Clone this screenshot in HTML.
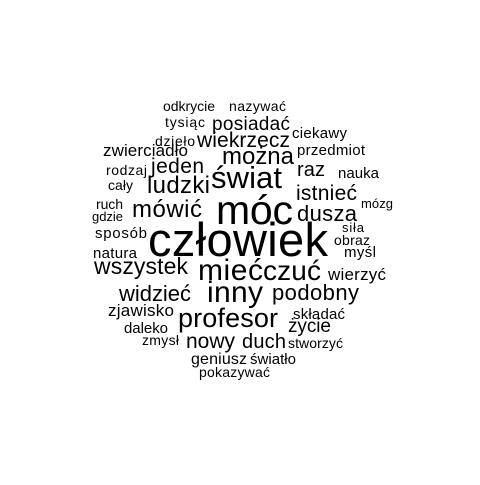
<!DOCTYPE html>
<html><head><meta charset="utf-8"><style>
html,body{margin:0;padding:0;background:#fff}
svg text{font-family:"Liberation Sans",Arial,sans-serif;fill:#000}
</style></head><body>
<svg width="480" height="480" viewBox="0 0 480 480">
<rect width="480" height="480" fill="#fff"/>
<text x="148" y="256" font-size="47" textLength="180">człowiek</text>
<text x="216" y="224" font-size="41" textLength="77">móc</text>
<text x="211" y="188" font-size="31" textLength="71">świat</text>
<text x="198" y="280" font-size="30" textLength="65">mieć</text>
<text x="263" y="280" font-size="28" textLength="58">czuć</text>
<text x="207" y="302" font-size="30" textLength="56">inny</text>
<text x="178" y="327" font-size="27" textLength="100">profesor</text>
<text x="163" y="111" font-size="14" textLength="52">odkrycie</text>
<text x="229" y="111" font-size="14" textLength="57">nazywać</text>
<text x="165" y="127" font-size="14" textLength="40">tysiąc</text>
<text x="212" y="130" font-size="19" textLength="78">posiadać</text>
<text x="155" y="146" font-size="14" textLength="40">dzieło</text>
<text x="197" y="147" font-size="21" textLength="93">wiekrzecz</text>
<text x="292" y="138" font-size="15" textLength="55">ciekawy</text>
<text x="103" y="156" font-size="17" textLength="85">zwierciadło</text>
<text x="222" y="164" font-size="24" textLength="72">można</text>
<text x="297" y="155" font-size="15" textLength="68">przedmiot</text>
<text x="106" y="175" font-size="14" textLength="41">rodzaj</text>
<text x="151" y="173" font-size="21" textLength="53">jeden</text>
<text x="297" y="176" font-size="20" textLength="28">raz</text>
<text x="338" y="178" font-size="15" textLength="41">nauka</text>
<text x="108" y="190" font-size="14" textLength="25">cały</text>
<text x="147" y="193" font-size="24" textLength="63">ludzki</text>
<text x="296" y="200" font-size="21" textLength="61">istnieć</text>
<text x="96" y="209" font-size="14" textLength="27">ruch</text>
<text x="361" y="208" font-size="13" textLength="32">mózg</text>
<text x="132" y="217" font-size="24" textLength="70">mówić</text>
<text x="297" y="221" font-size="22" textLength="60">dusza</text>
<text x="92" y="221" font-size="13" textLength="31">gdzie</text>
<text x="95" y="238" font-size="15" textLength="52">sposób</text>
<text x="342" y="232" font-size="13" textLength="22">siła</text>
<text x="334" y="245" font-size="14" textLength="36">obraz</text>
<text x="93" y="258" font-size="15" textLength="44">natura</text>
<text x="344" y="257" font-size="15" textLength="32">myśl</text>
<text x="94" y="274" font-size="23" textLength="94">wszystek</text>
<text x="328" y="280" font-size="17" textLength="58">wierzyć</text>
<text x="119" y="301" font-size="22" textLength="72">widzieć</text>
<text x="272" y="300" font-size="22" textLength="87">podobny</text>
<text x="108" y="316" font-size="17" textLength="66">zjawisko</text>
<text x="293" y="319" font-size="15" textLength="52">składać</text>
<text x="124" y="333" font-size="15" textLength="44">daleko</text>
<text x="288" y="332" font-size="19" textLength="43">życie</text>
<text x="142" y="345" font-size="14" textLength="37">zmysł</text>
<text x="186" y="348" font-size="21" textLength="49">nowy</text>
<text x="242" y="348" font-size="20" textLength="44">duch</text>
<text x="288" y="348" font-size="14" textLength="55">stworzyć</text>
<text x="191" y="364" font-size="16" textLength="56">geniusz</text>
<text x="250" y="364" font-size="15" textLength="46">światło</text>
<text x="199" y="377" font-size="14" textLength="71">pokazywać</text>
</svg>
</body></html>
